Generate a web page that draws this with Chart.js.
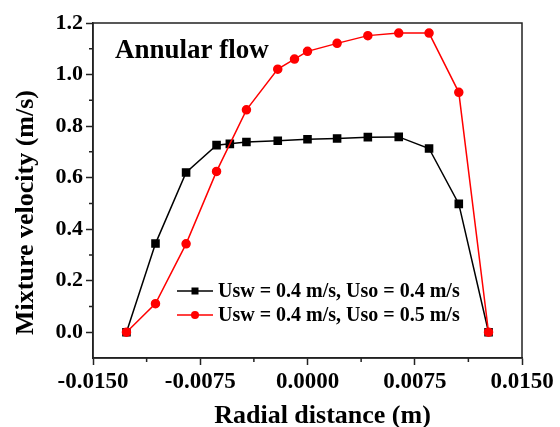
<!DOCTYPE html>
<html><head><meta charset="utf-8">
<script src="https://cdn.jsdelivr.net/npm/chart.js@4/dist/chart.umd.min.js"></script>
<style>html,body{margin:0;padding:0;background:#fff;} canvas{display:block;}</style>
</head><body>
<canvas id="c" width="560" height="427"></canvas>
<script>
const blackLabel = 'Usw = 0.4 m/s, Uso = 0.4 m/s';
const redLabel = 'Usw = 0.4 m/s, Uso = 0.5 m/s';
const blackX = [-0.01266,-0.01063,-0.00849,-0.00636,-0.00543,-0.00427,-0.00208,0,0.00207,0.00422,0.00638,0.0085,0.01058,0.01266];
const blackY = [0,0.344,0.62,0.726,0.731,0.738,0.743,0.749,0.752,0.757,0.758,0.713,0.498,0];
const redX = [-0.01266,-0.01063,-0.00849,-0.00636,-0.00427,-0.00208,-0.00091,0,0.00207,0.00422,0.00638,0.0085,0.01058,0.01266];
const redY = [0,0.111,0.343,0.624,0.863,1.021,1.06,1.09,1.121,1.151,1.161,1.161,0.931,0];
const xTicks = [-0.015,-0.0075,0,0.0075,0.015];
const xMinor = [-0.01125,-0.00375,0.00375,0.01125];
const yTicks = [0,0.2,0.4,0.6,0.8,1.0,1.2];
const yMinor = [0.1,0.3,0.5,0.7,0.9,1.1];
const annotationText = 'Annular flow';
const xTitle = 'Radial distance (m)';
const yTitle = 'Mixture velocity (m/s)';

const FAMILY = "'Liberation Serif','Times New Roman',serif";
const toPts = (xs, ys) => xs.map((x, i) => ({x: x, y: ys[i]}));

const framePlugin = {
  id: 'frame',
  beforeDatasetsDraw(chart) {
    const {ctx, chartArea: a} = chart;
    ctx.save();
    ctx.strokeStyle = '#222';
    ctx.lineWidth = 1.5;
    ctx.strokeRect(a.left, a.top, a.right - a.left, a.bottom - a.top);
    const xs = chart.scales.x, ys = chart.scales.y;
    ctx.beginPath();
    yMinor.forEach(v => { const p = ys.getPixelForValue(v); ctx.moveTo(a.left - 4, p); ctx.lineTo(a.left, p); });
    xMinor.forEach(v => { const p = xs.getPixelForValue(v); ctx.moveTo(p, a.bottom); ctx.lineTo(p, a.bottom + 4); });
    ctx.stroke();
    ctx.restore();
  },
  afterDraw(chart) {
    const {ctx, chartArea: a} = chart;
    ctx.save();
    ctx.fillStyle = '#000';
    ctx.font = "bold 27px " + FAMILY;
    ctx.textBaseline = 'alphabetic';
    ctx.textAlign = 'left';
    ctx.fillText(annotationText, a.left + 22, a.top + 35);
    // axis titles
    ctx.font = "bold 26px " + FAMILY;
    ctx.textAlign = 'center';
    ctx.fillText(xTitle, (a.left + a.right) / 2 + 15, a.bottom + 65);
    ctx.save();
    ctx.translate(a.left - 60, (a.top + a.bottom) / 2 + 22);
    ctx.rotate(-Math.PI / 2);
    ctx.fillText(yTitle, 0, 0);
    ctx.restore();
    // legend
    const lx = a.left + 84, ly = a.bottom - 67, gap = 24;
    ctx.textAlign = 'left';
    chart.data.datasets.forEach((ds, i) => {
      const y = ly + i * gap;
      ctx.strokeStyle = ds.borderColor;
      ctx.lineWidth = 1.5;
      ctx.beginPath(); ctx.moveTo(lx, y); ctx.lineTo(lx + 36, y); ctx.stroke();
      ctx.fillStyle = ds.pointBackgroundColor;
      if (ds.pointStyle === 'rect') {
        ctx.fillRect(lx + 18 - 3.5, y - 3.5, 7, 7);
      } else {
        ctx.beginPath(); ctx.arc(lx + 18, y, 4, 0, Math.PI * 2); ctx.fill();
      }
      ctx.fillStyle = '#000';
      ctx.font = "bold 20px " + FAMILY;
      ctx.textBaseline = 'middle';
      ctx.fillText(ds.label, lx + 41, y + 1);
    });
    ctx.restore();
  }
};

new Chart(document.getElementById('c'), {
  type: 'line',
  data: {
    datasets: [
      {label: blackLabel, data: toPts(blackX, blackY), borderColor: '#000', backgroundColor: '#000',
       pointBackgroundColor: '#000', pointBorderColor: '#000', pointStyle: 'rect', pointRadius: 5,
       borderWidth: 1.5, order: 1},
      {label: redLabel, data: toPts(redX, redY), borderColor: '#ff0000', backgroundColor: '#ff0000',
       pointBackgroundColor: '#ff0000', pointBorderColor: '#ff0000', pointStyle: 'circle', pointRadius: 4,
       borderWidth: 1.5, order: 0}
    ]
  },
  options: {
    responsive: false,
    animation: false,
    devicePixelRatio: 1,
    layout: {padding: {top: 23, right: 38, left: 0, bottom: 0}},
    plugins: {legend: {display: false}, tooltip: {enabled: false}},
    scales: {
      x: {
        type: 'linear', min: -0.015, max: 0.015,
        afterBuildTicks: s => { s.ticks = xTicks.map(v => ({value: v})); },
        afterFit: s => { s.height = 69; },
        ticks: {callback: v => Number(v).toFixed(4), color: '#000', padding: 3, maxRotation: 0, autoSkip: false,
                font: {family: FAMILY, size: 23, weight: 'bold'}},
        grid: {drawOnChartArea: false, drawTicks: true, tickLength: 7, tickWidth: 1.5, tickColor: '#222'},
        border: {display: true, color: '#222', width: 1.5},
        title: {display: false}
      },
      y: {
        type: 'linear', min: -0.1, max: 1.2,
        afterBuildTicks: s => { s.ticks = yTicks.map(v => ({value: v})); },
        afterFit: s => { s.width = 93; },
        ticks: {callback: v => Number(v).toFixed(1), color: '#000', padding: 3, autoSkip: false,
                font: {family: FAMILY, size: 22, weight: 'bold'}},
        grid: {drawOnChartArea: false, drawTicks: true, tickLength: 7, tickWidth: 1.5, tickColor: '#222'},
        border: {display: true, color: '#222', width: 1.5},
        title: {display: false}
      }
    }
  },
  plugins: [framePlugin]
});
</script>
</body></html>
